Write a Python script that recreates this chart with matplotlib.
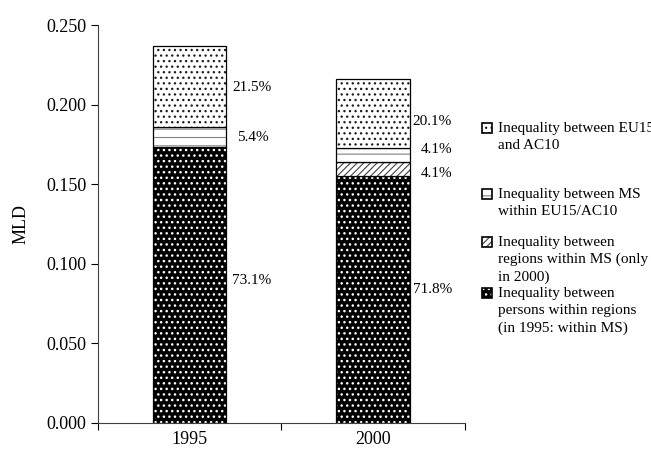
import numpy as np
from matplotlib import pyplot as plt
from matplotlib.patches import Rectangle

plt.rcParams['font.family'] = ['Liberation Serif', 'DejaVu Serif']
plt.rcParams['hatch.linewidth'] = 0.8

# data (MLD, stacked from the bottom up)
years   = ['1995', '2000']
totals  = [0.237, 0.216]
shares  = {                      # per cent of total
    'persons' : [73.1, 71.8],
    'regions' : [0.0, 4.1],
    'ms'      : [5.4, 4.1],
    'eu_ac'   : [21.5, 20.1],
}
legend_labels = [
    'Inequality between EU15\nand AC10',
    'Inequality between MS\nwithin EU15/AC10',
    'Inequality between\nregions within MS (only\nin 2000)',
    'Inequality between\npersons within regions\n(in 1995: within MS)',
]
order = ['persons', 'regions', 'ms', 'eu_ac']

# hatch styles per component (style, hatch line width)
styles = {
    'persons' : (dict(facecolor='black', edgecolor='white', hatch='...'), 1.0),
    'regions' : (dict(facecolor='white', edgecolor='0.25', hatch='/////'), 0.8),
    'ms'      : (dict(facecolor='white', edgecolor='0.5', hatch='--'), 0.8),
    'eu_ac'   : (dict(facecolor='white', edgecolor='0.1', hatch='...'), 0.9),
}
# label nudges (points) per component, per bar
nudge = {
    'persons' : [(4, 3), (2, 7)],
    'regions' : [(0, 0), (8, -3)],
    'ms'      : [(8, 0), (8, 4)],
    'eu_ac'   : [(4, -1), (2, -6)],
}


def hatched(patch, lw):
    if hasattr(patch, 'set_hatch_linewidth'):
        patch.set_hatch_linewidth(lw)


plt.close('all')
fig = plt.figure(figsize=(6.51, 4.49), dpi=100)
ax  = fig.add_axes([0.1505, 0.058, 0.5635, 0.886])

x      = np.arange(len(years))
width  = 0.4
bottom = np.zeros(len(years))
for k in order:
    st, hlw = styles[k]
    h = np.array(shares[k]) / 100 * np.array(totals)
    with plt.rc_context({'hatch.linewidth': hlw}):
        bars = ax.bar(x, h, width, bottom=bottom, lw=0, **st)
    [hatched(b, hlw) for b in bars]
    ax.bar(x, h, width, bottom=bottom, fill=False, edgecolor='k', lw=0.9)
    for i in range(len(years)):
        if shares[k][i] > 0:
            yc = bottom[i] + h[i]/2
            ax.annotate(f'{shares[k][i]:.1f}%', (x[i]+width/2, yc),
                        xytext=nudge[k][i], textcoords='offset points',
                        va='center', ha='left', size=11)
    bottom += h

ax.set_xlim(-0.5, 1.5)
ax.set_ylim(0, 0.25)
ax.set_yticks(np.arange(0, 0.2501, 0.05))
ax.set_yticklabels([f'{v:.3f}' for v in np.arange(0, 0.2501, 0.05)], size=13)
ax.set_xticks([-0.5, 0.5, 1.5])
ax.set_xticklabels([])
ax.set_xticks(x, minor=True)
ax.set_xticklabels(years, minor=True, size=13)
ax.tick_params(axis='x', which='minor', length=0, pad=6)
ax.tick_params(axis='both', which='major', length=5, width=0.8)
ax.set_ylabel('MLD', size=13, labelpad=12)
for s in ['top', 'right']:
    ax.spines[s].set_visible(False)
for s in ['left', 'bottom']:
    ax.spines[s].set_linewidth(0.8)
    ax.spines[s].set_color('0.25')

# hand-placed legend, top entry first
leg_y = [0.715, 0.568, 0.462, 0.348]
for k, lab, y in zip(order[::-1], legend_labels, leg_y):
    st, hlw = styles[k]
    with plt.rc_context({'hatch.linewidth': hlw}):
        r = Rectangle((0.741, y - 0.011), 0.015, 0.022, transform=fig.transFigure,
                      lw=0, **st)
    hatched(r, hlw)
    fig.add_artist(r)
    fig.add_artist(Rectangle((0.741, y - 0.011), 0.015, 0.022, transform=fig.transFigure,
                             fill=False, edgecolor='k', lw=1.2))
    fig.text(0.765, y + 0.013, lab, size=11, va='top', ha='left', linespacing=1.4)

plt.savefig('out.png', dpi=100)
